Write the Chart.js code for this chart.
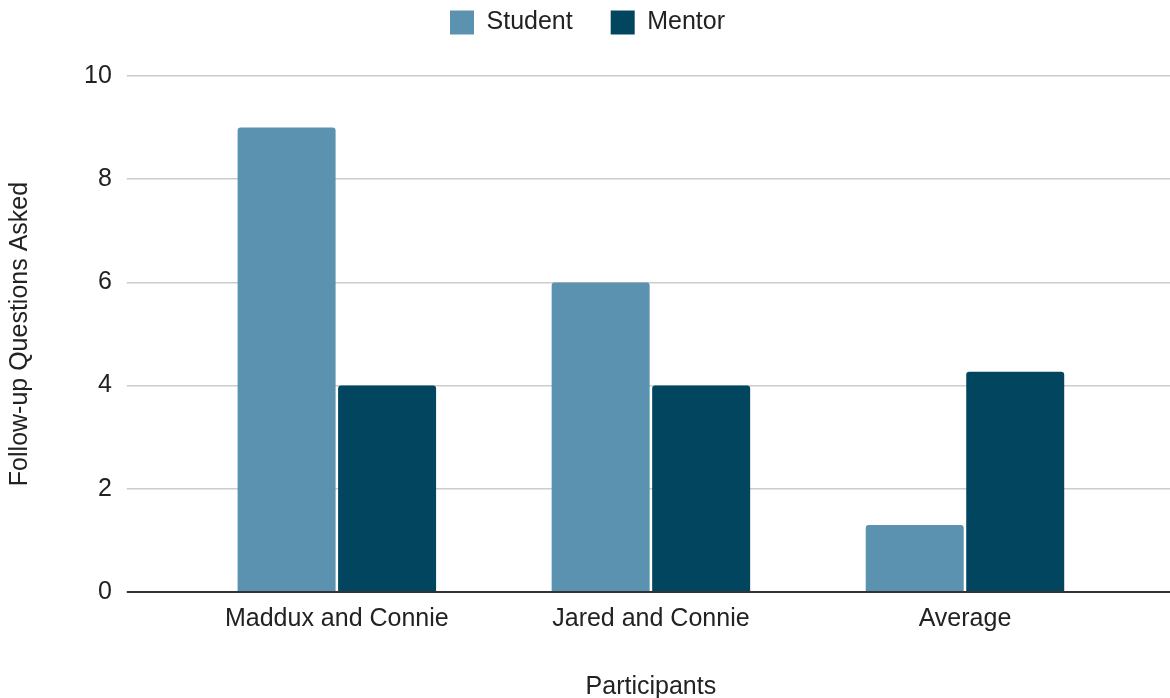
<!DOCTYPE html>
<html>
<head>
<meta charset="utf-8">
<script src="https://cdn.jsdelivr.net/npm/chart.js@4"></script>
<style>
    html, body { margin: 0; padding: 0; background: #fff; }
    #wrap { width: 1170px; height: 698px; }
</style>
</head>
<body>
<div id="wrap"><canvas id="followupChart"></canvas></div>
<script>
// Chart data
const categories = ['Maddux and Connie', 'Jared and Connie', 'Average'];
const studentValues = [9, 6, 1.3];
const mentorValues = [4, 4, 4.27];
const yTicks = [0, 2, 4, 6, 8, 10];

const FONT = "'Liberation Sans', Arial, sans-serif";
const gridColor = ctx => ctx.tick && ctx.tick.value === 0 ? '#333333' : '#cccccc';
const gridWidth = ctx => ctx.tick && ctx.tick.value === 0 ? 2 : 1.5;

// Push the chart area down a bit below the legend
const legendGap = {
    id: 'legendGap',
    beforeInit(chart) {
        const fit = chart.legend.fit;
        chart.legend.fit = function () {
            fit.bind(chart.legend)();
            this.height += 31;
        };
    }
};

Chart.defaults.font.family = FONT;
Chart.defaults.font.size = 25;
Chart.defaults.color = '#222222';

const ctx = document.getElementById('followupChart').getContext('2d');
new Chart(ctx, {
    type: 'bar',
    data: {
        labels: categories,
        datasets: [{
            label: 'Student',
            data: studentValues,
            backgroundColor: '#5a92b0',
            borderRadius: 3,
            borderSkipped: 'start',
            categoryPercentage: 0.64,
            barPercentage: 0.975
        }, {
            label: 'Mentor',
            data: mentorValues,
            backgroundColor: '#02455f',
            borderRadius: 3,
            borderSkipped: 'start',
            categoryPercentage: 0.64,
            barPercentage: 0.975
        }]
    },
    options: {
        responsive: true,
        maintainAspectRatio: false,
        animation: false,
        layout: {
            padding: { top: -28, left: 5, right: 0, bottom: -4 }
        },
        plugins: {
            legend: {
                position: 'top',
                labels: {
                    boxWidth: 24,
                    boxHeight: 24,
                    padding: 38,
                    font: { size: 25 },
                    color: '#222222'
                }
            },
            tooltip: { enabled: false }
        },
        scales: {
            x: {
                grid: { display: false },
                border: { display: false },
                ticks: { padding: 4, font: { size: 25 }, color: '#222222' },
                title: {
                    display: true,
                    text: 'Participants',
                    font: { size: 25 },
                    color: '#222222',
                    padding: { top: 34, bottom: 0 }
                }
            },
            y: {
                min: 0,
                max: 10,
                afterBuildTicks: axis => { axis.ticks = yTicks.map(v => ({ value: v })); },
                border: { display: false },
                grid: {
                    color: gridColor,
                    lineWidth: gridWidth,
                    tickLength: 53
                },
                ticks: { padding: 15, font: { size: 25 }, color: '#222222' },
                title: {
                    display: true,
                    text: 'Follow-up Questions Asked',
                    font: { size: 25 },
                    color: '#222222',
                    padding: { top: 0, bottom: 34 }
                }
            },
            y2: {
                position: 'right',
                min: 0,
                max: 10,
                afterBuildTicks: axis => { axis.ticks = yTicks.map(v => ({ value: v })); },
                border: { display: false },
                grid: {
                    drawOnChartArea: false,
                    color: gridColor,
                    lineWidth: gridWidth,
                    tickLength: 48
                },
                ticks: { display: false }
            }
        }
    },
    plugins: [legendGap]
});
</script>
</body>
</html>
